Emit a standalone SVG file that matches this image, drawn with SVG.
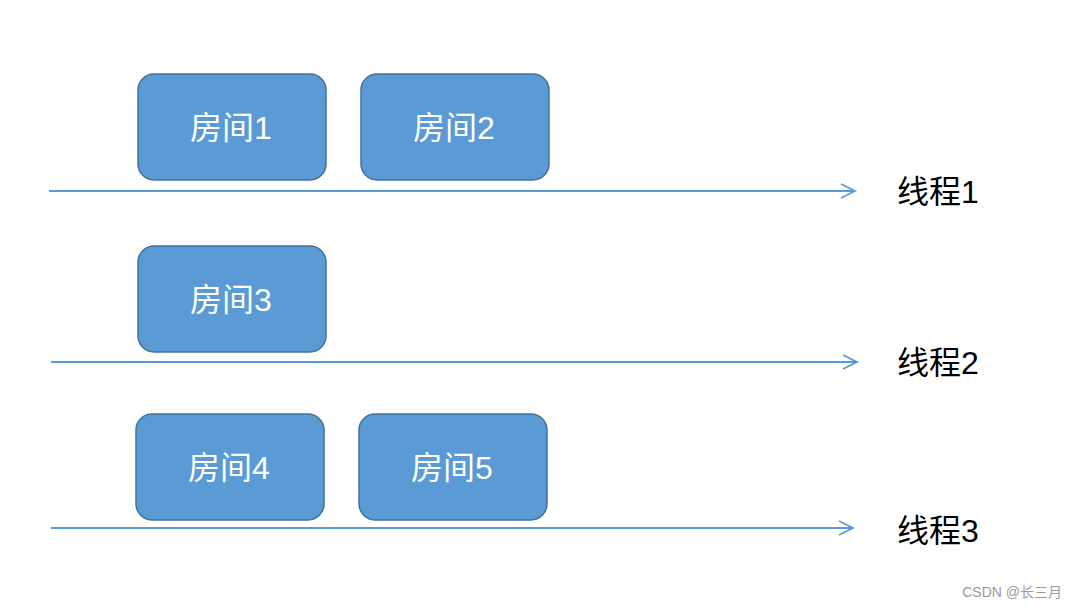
<svg xmlns="http://www.w3.org/2000/svg" width="1076" height="608" viewBox="0 0 1076 608">
<defs>
<style>
.box{fill:#5b9bd5;stroke:#41719c;stroke-width:1.5}
.bt{fill:#fff;font-family:"Liberation Sans","Noto Sans CJK SC",sans-serif;font-size:32px;text-anchor:middle;dominant-baseline:central}
.lt{fill:#000;font-family:"Liberation Sans","Noto Sans CJK SC",sans-serif;font-size:32px;dominant-baseline:central}
.ln{stroke:#5b9bd5;stroke-width:2;fill:none}
.ah{stroke:#5b9bd5;stroke-width:1.8;fill:none}
</style>
</defs>
<rect width="1076" height="608" fill="#fff"/>
<g id="connectors">
<line class="ln" x1="49" y1="191" x2="854" y2="191"/>
<polyline class="ah" points="841,184 855,191 841,198"/>
<line class="ln" x1="51" y1="362" x2="856" y2="362"/>
<polyline class="ah" points="843,355 857,362 843,369"/>
<line class="ln" x1="51" y1="528" x2="852" y2="528"/>
<polyline class="ah" points="839,521 853,528 839,535"/>
</g>
<g id="room1"><rect class="box" x="138" y="74" width="188" height="106" rx="16"/><text class="bt" x="231" y="128">房间1</text></g>
<g id="room2"><rect class="box" x="361" y="74" width="188" height="106" rx="16"/><text class="bt" x="454" y="128">房间2</text></g>
<g id="room3"><rect class="box" x="138" y="246" width="188" height="106" rx="16"/><text class="bt" x="231" y="300">房间3</text></g>
<g id="room4"><rect class="box" x="136" y="414" width="188" height="106" rx="16"/><text class="bt" x="229" y="468">房间4</text></g>
<g id="room5"><rect class="box" x="359" y="414" width="188" height="106" rx="16"/><text class="bt" x="452" y="468">房间5</text></g>
<g id="thread1"><text class="lt" x="897" y="192">线程1</text></g>
<g id="thread2"><text class="lt" x="897" y="363">线程2</text></g>
<g id="thread3"><text class="lt" x="897" y="531">线程3</text></g>
<text x="1062" y="592" font-family="Liberation Sans,'Noto Sans CJK SC',sans-serif" font-size="14" fill="#999" text-anchor="end" dominant-baseline="central">CSDN @长三月</text>
</svg>
